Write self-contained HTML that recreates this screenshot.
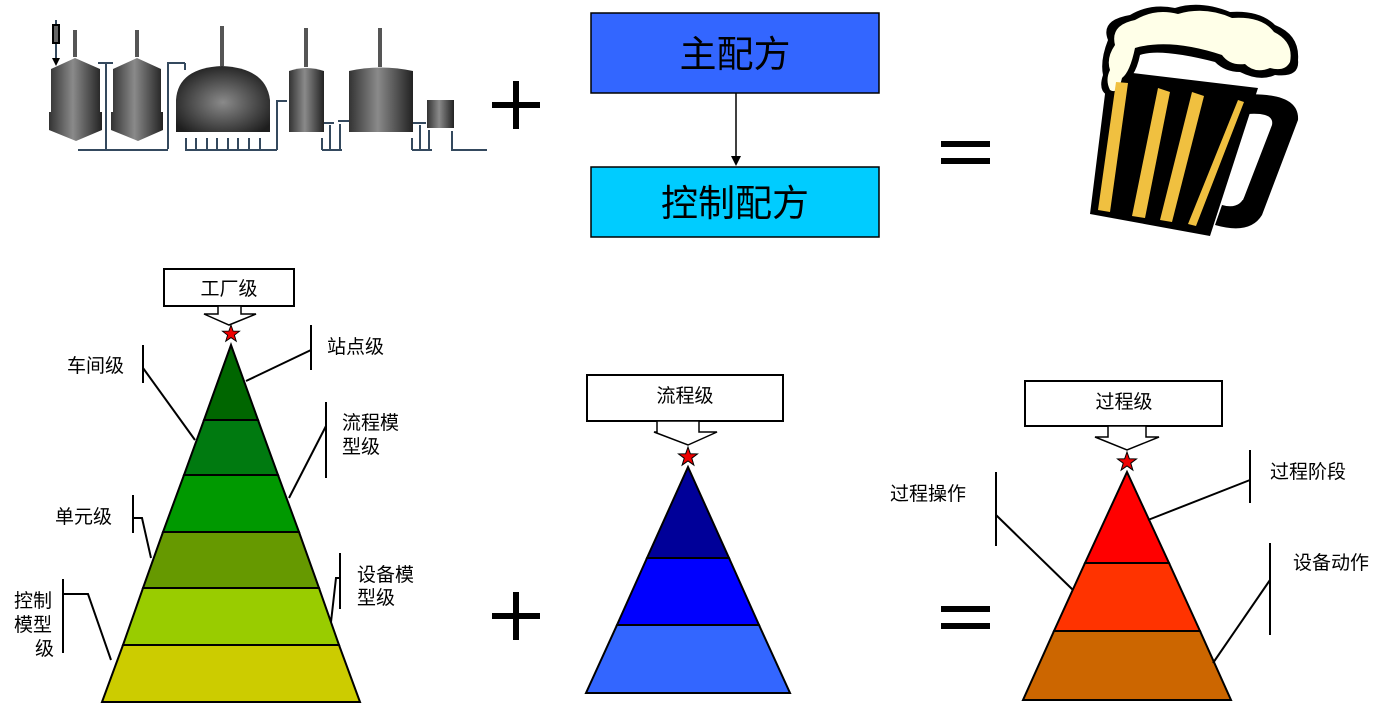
<!DOCTYPE html>
<html><head><meta charset="utf-8"><style>
html,body{margin:0;padding:0;background:#fff;}
svg{display:block;}
text{font-family:"Liberation Sans","Noto Sans CJK SC",sans-serif;fill:#000;}
</style></head><body>
<svg width="1390" height="724" viewBox="0 0 1390 724" xmlns="http://www.w3.org/2000/svg">
<defs>
<linearGradient id="tg" x1="0" x2="1" y1="0" y2="0">
<stop offset="0" stop-color="#333"/><stop offset="0.45" stop-color="#8a8a8a"/><stop offset="1" stop-color="#222"/>
</linearGradient>
<radialGradient id="dg" cx="0.5" cy="0.55" r="0.6">
<stop offset="0" stop-color="#8a8a8a"/><stop offset="1" stop-color="#1e1e1e"/>
</radialGradient>
<g id="star"><polygon points="0,-10 2.35,-3.24 9.51,-3.09 3.8,1.24 5.88,8.09 0,4 -5.88,8.09 -3.8,1.24 -9.51,-3.09 -2.35,-3.24" fill="#e00" stroke="#000" stroke-width="1"/></g>
</defs>

<!-- Tanks -->
<g stroke="#34495e" stroke-width="2" fill="none">
<polyline points="78,150 168,150"/>
<polyline points="106,63 106,149"/>
<polyline points="98,63 113,63"/>
<polyline points="168,149 168,63 185,63"/>
<polyline points="185,63 185,70"/>
<polyline points="186,138 186,150 277,150"/>
<line x1="196" y1="138" x2="196" y2="150"/><line x1="207" y1="138" x2="207" y2="150"/>
<line x1="217" y1="138" x2="217" y2="150"/><line x1="228" y1="138" x2="228" y2="150"/>
<line x1="238" y1="138" x2="238" y2="150"/><line x1="249" y1="138" x2="249" y2="150"/>
<line x1="260" y1="138" x2="260" y2="150"/>
<polyline points="277,150 277,101 287,101"/>
<polyline points="322,150 342,150"/>
<line x1="322" y1="138" x2="322" y2="150"/><line x1="330" y1="125" x2="330" y2="150"/><line x1="340" y1="124" x2="340" y2="150"/>
<polyline points="324,123 334,123"/><polyline points="338,121 349,121"/>
<polyline points="412,150 432,150"/>
<line x1="412" y1="138" x2="412" y2="150"/><line x1="420" y1="125" x2="420" y2="150"/><line x1="429" y1="130" x2="429" y2="150"/>
<polyline points="413,123 426,123"/>
<polyline points="452,131 452,150 487,150"/>
<line x1="56" y1="20" x2="56" y2="58"/>
</g>
<rect x="53" y="25" width="6" height="18" fill="#666" stroke="#000" stroke-width="2"/>
<polygon points="52,58 60,58 56,66" fill="#000"/>
<line x1="75" y1="30" x2="75" y2="57" stroke="#555" stroke-width="4"/>
<line x1="137" y1="30" x2="137" y2="57" stroke="#555" stroke-width="4"/>
<line x1="222" y1="26" x2="222" y2="66" stroke="#555" stroke-width="4"/>
<line x1="306" y1="28" x2="306" y2="67" stroke="#555" stroke-width="4"/>
<line x1="380" y1="28" x2="380" y2="67" stroke="#555" stroke-width="4"/>
<polygon points="51,69 75,58 100,69 100,112 102,112 102,130 76,141 49,130 49,112 51,112" fill="url(#tg)"/>
<polygon points="113,69 137,58 161,69 161,112 163,112 163,130 138,141 111,130 111,112 113,112" fill="url(#tg)"/>
<path d="M176,132 L176,100 Q178,68 222,66 Q266,68 270,100 L270,132 Z" fill="url(#dg)"/>
<path d="M289,132 L289,71 Q306,65 324,71 L324,132 Z" fill="url(#tg)"/>
<path d="M349,132 L349,71 Q380,64 413,71 L413,132 Z" fill="url(#tg)"/>
<rect x="427" y="100" width="27" height="28" fill="url(#tg)"/>

<!-- plus / equals -->
<g fill="#000">
<rect x="492" y="102" width="48" height="6"/><rect x="513" y="81" width="6" height="48"/>
<rect x="492" y="613" width="48" height="6"/><rect x="513" y="592" width="6" height="48"/>
<rect x="941" y="141" width="49" height="6"/><rect x="941" y="158" width="49" height="6"/>
<rect x="941" y="606" width="49" height="6"/><rect x="941" y="623" width="49" height="6"/>
</g>

<!-- recipe boxes -->
<rect x="591" y="13" width="288" height="80" fill="#3366FF" stroke="#000" stroke-width="1.5"/>
<text x="735" y="67" font-size="37" text-anchor="middle">主配方</text>
<rect x="591" y="167" width="288" height="70" fill="#00CCFF" stroke="#000" stroke-width="1.5"/>
<text x="735" y="216" font-size="37" text-anchor="middle">控制配方</text>
<line x1="736" y1="93" x2="736" y2="158" stroke="#000" stroke-width="1.5"/>
<polygon points="731,156 741,156 736,166" fill="#000"/>

<!-- beer mug -->
<g>
<path d="M1235,95 Q1300,90 1298,120 L1262,215 Q1250,235 1215,225 L1222,205 Q1240,210 1245,195 L1272,125 Q1275,110 1238,115 Z" fill="#000"/>
<path d="M1250,130 L1268,128 L1243,200 L1228,200 Z" fill="#fff"/>
<polygon points="1108,70 1258,88 1210,236 1090,214" fill="#000"/>
<path d="M1108,40 Q1100,20 1130,15 Q1150,3 1175,8 Q1200,0 1230,12 Q1260,10 1275,25 Q1300,35 1298,60 Q1300,78 1275,75 Q1260,82 1240,72 Q1225,72 1215,62 Q1160,48 1140,55 Q1135,80 1120,85 Q1120,100 1107,95 Q1098,90 1103,75 Q1100,60 1108,40 Z" fill="#000"/>
<path d="M1115,45 Q1110,25 1135,20 Q1155,8 1178,14 Q1205,6 1232,18 Q1262,16 1274,32 Q1294,42 1290,62 Q1285,72 1270,68 Q1255,74 1245,64 Q1230,66 1222,55 Q1170,38 1135,48 Q1130,72 1122,78 Q1118,95 1110,90 Q1105,80 1110,70 Q1106,58 1115,45 Z" fill="#FFFFE8"/>
<g fill="#F0C040">
<polygon points="1116,82 1128,83 1110,212 1098,210"/>
<polygon points="1158,88 1170,92 1145,218 1132,216"/>
<polygon points="1192,92 1204,96 1172,222 1160,220"/>
<polygon points="1238,100 1244,102 1196,226 1188,224"/>
</g>
</g>

<!-- Left pyramid -->
<g stroke="#000" stroke-width="2">
<polygon points="231,345 258,420 204,420" fill="#006600"/>
<polygon points="204,420 258,420 278,475 184,475" fill="#007A10"/>
<polygon points="184,475 278,475 299,532 163,532" fill="#009900"/>
<polygon points="163,532 299,532 319,588 143,588" fill="#669900"/>
<polygon points="143,588 319,588 339,645 123,645" fill="#99CC00"/>
<polygon points="123,645 339,645 360,702 102,702" fill="#CCCC00"/>
</g>
<rect x="164" y="269" width="130" height="37" fill="#fff" stroke="#000" stroke-width="2"/>
<text x="229" y="295" font-size="19" text-anchor="middle">工厂级</text>
<polygon points="218,306 218,314 204,314 229,325 256,314 241,314 241,306" fill="#fff" stroke="#000" stroke-width="1.5"/>
<use href="#star" transform="translate(231,334) scale(0.9)"/>

<g stroke="#000" stroke-width="2" fill="none">
<line x1="143" y1="345" x2="143" y2="383"/><polyline points="143,368 195,440"/>
<line x1="311" y1="325" x2="311" y2="370"/><polyline points="311,350 246,381"/>
<line x1="326" y1="402" x2="326" y2="478"/><polyline points="326,426 289,498"/>
<line x1="133" y1="495" x2="133" y2="533"/><polyline points="133,518 142,518 151,558"/>
<line x1="340" y1="553" x2="340" y2="609"/><polyline points="340,578 336,578 331,622"/>
<line x1="63" y1="579" x2="63" y2="653"/><polyline points="63,594 88,594 111,660"/>
</g>
<g font-size="19">
<text x="67" y="372">车间级</text>
<text x="327" y="353">站点级</text>
<text x="342" y="429">流程模</text><text x="342" y="453">型级</text>
<text x="55" y="523">单元级</text>
<text x="357" y="581">设备模</text><text x="357" y="604">型级</text>
<text x="14" y="607">控制</text><text x="14" y="631">模型</text><text x="35" y="655">级</text>
</g>

<!-- Middle pyramid -->
<g stroke="#000" stroke-width="2">
<polygon points="688,467 729,558 647,558" fill="#000099"/>
<polygon points="647,558 729,558 759,625 617,625" fill="#0000FF"/>
<polygon points="617,625 759,625 790,693 586,693" fill="#3366FF"/>
</g>
<rect x="587" y="375" width="196" height="46" fill="#fff" stroke="#000" stroke-width="2"/>
<text x="685" y="402" font-size="19" text-anchor="middle">流程级</text>
<polygon points="657,421 657,432 654,432 688,445 717,432 699,432 699,421" fill="#fff" stroke="#000" stroke-width="1.5"/>
<use href="#star" transform="translate(688,457)"/>

<!-- Right pyramid -->
<g stroke="#000" stroke-width="2">
<polygon points="1127,472 1169,563 1085,563" fill="#FF0000"/>
<polygon points="1085,563 1169,563 1200,631 1054,631" fill="#FF3300"/>
<polygon points="1054,631 1200,631 1231,700 1023,700" fill="#CC6600"/>
</g>
<rect x="1025" y="381" width="197" height="45" fill="#fff" stroke="#000" stroke-width="2"/>
<text x="1124" y="408" font-size="19" text-anchor="middle">过程级</text>
<polygon points="1108,426 1108,437 1095,437 1127,450 1159,437 1146,437 1146,426" fill="#fff" stroke="#000" stroke-width="1.5"/>
<use href="#star" transform="translate(1127,462)"/>

<g stroke="#000" stroke-width="2" fill="none">
<line x1="996" y1="472" x2="996" y2="546"/><polyline points="996,515 1073,590"/>
<line x1="1250" y1="450" x2="1250" y2="503"/><polyline points="1250,480 1148,520"/>
<line x1="1270" y1="543" x2="1270" y2="635"/><polyline points="1270,580 1213,663"/>
</g>
<g font-size="19">
<text x="890" y="500">过程操作</text>
<text x="1270" y="478">过程阶段</text>
<text x="1293" y="569">设备动作</text>
</g>
</svg>
</body></html>
